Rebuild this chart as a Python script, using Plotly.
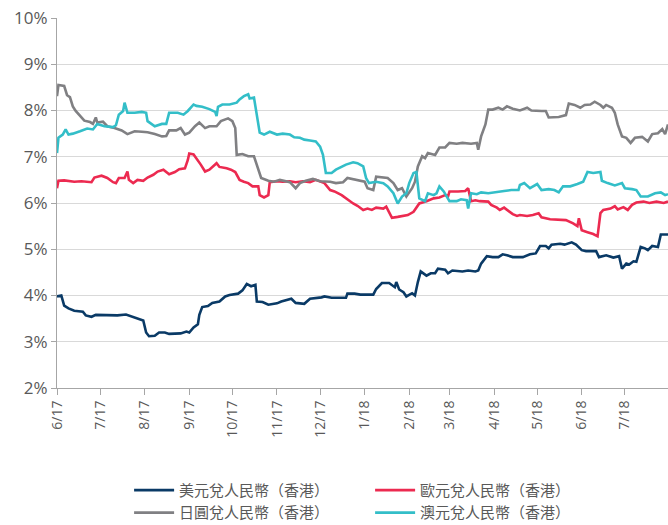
import pandas as pd
import plotly.graph_objects as go

START = "2017-06-01"

month_ticks = ["2017-06-01", "2017-07-01", "2017-08-01", "2017-09-01", "2017-10-01",
               "2017-11-01", "2017-12-01", "2018-01-01", "2018-02-01", "2018-03-01",
               "2018-04-01", "2018-05-01", "2018-06-01", "2018-07-01"]
month_labels = ["6/17", "7/17", "8/17", "9/17", "10/17", "11/17", "12/17",
                "1/18", "2/18", "3/18", "4/18", "5/18", "6/18", "7/18"]

y_ticks = [2, 3, 4, 5, 6, 7, 8, 9, 10]

# days since 2017-06-01 and values (%)
usd_days = [0, 3, 5, 8, 12, 18, 20, 24, 27, 33, 42, 48, 54, 57, 60, 62, 64, 68, 71, 75, 78, 86, 90, 92,
            95, 98, 99, 101, 105, 108, 113, 117, 120, 126, 129, 132, 135, 138, 139, 143, 147, 153,
            156, 163, 166, 172, 176, 184, 186, 191, 201, 202, 207, 211, 220, 222, 226, 231, 235,
            236, 238, 241, 243, 247, 249, 251, 253, 257, 260, 263, 265, 270, 272, 275, 282, 286,
            291, 293, 295, 299, 303, 307, 310, 313, 317, 324, 329, 333, 336, 340, 342, 344, 350,
            353, 358, 361, 365, 368, 375, 377, 382, 387, 391, 393, 396, 398, 401, 403, 406, 409,
            411, 414, 418, 420, 425]
usd_vals = [3.98, 4.00, 3.78, 3.72, 3.67, 3.65, 3.57, 3.54, 3.58, 3.57, 3.57, 3.59, 3.53, 3.49, 3.46,
            3.20, 3.12, 3.13, 3.20, 3.20, 3.17, 3.18, 3.22, 3.20, 3.31, 3.38, 3.58, 3.75, 3.77, 3.84,
            3.87, 3.98, 4.01, 4.04, 4.11, 4.25, 4.20, 4.23, 3.87, 3.86, 3.80, 3.83, 3.87, 3.93, 3.84,
            3.82, 3.93, 3.96, 3.98, 3.95, 3.95, 4.04, 4.04, 4.02, 4.02, 4.14, 4.27, 4.27, 4.18, 4.29,
            4.13, 4.07, 3.98, 4.05, 4.00, 4.29, 4.52, 4.43, 4.48, 4.48, 4.58, 4.56, 4.48, 4.54, 4.52,
            4.54, 4.52, 4.54, 4.69, 4.85, 4.83, 4.83, 4.89, 4.87, 4.83, 4.83, 4.89, 4.91, 5.07, 5.07,
            5.02, 5.10, 5.12, 5.10, 5.15, 5.10, 4.98, 4.96, 4.96, 4.83, 4.87, 4.82, 4.85, 4.58, 4.69,
            4.67, 4.74, 4.73, 5.05, 5.02, 4.98, 5.07, 5.05, 5.32, 5.32]

eur_days = [0, 1, 5, 12, 17, 24, 26, 31, 35, 39, 41, 43, 47, 49, 50, 53, 56, 60, 63, 67, 70, 74, 78,
            82, 85, 89, 91, 92, 95, 98, 100, 103, 106, 111, 113, 118, 121, 124, 127, 130, 133, 136,
            140, 141, 144, 147, 148, 153, 157, 162, 166, 171, 176, 180, 186, 190, 193, 198, 202, 206,
            209, 213, 216, 219, 222, 227, 229, 231, 233, 237, 244, 248, 250, 252, 257, 262, 266, 270,
            272, 273, 279, 284, 286, 288, 291, 294, 300, 302, 306, 308, 311, 317, 320, 322, 327, 331,
            335, 337, 343, 349, 354, 359, 362, 363, 365, 369, 373, 376, 378, 380, 385, 388, 390, 394,
            397, 400, 403, 408, 412, 417, 422, 425]
eur_vals = [6.32, 6.48, 6.49, 6.46, 6.47, 6.45, 6.55, 6.59, 6.54, 6.45, 6.43, 6.54, 6.54, 6.68, 6.50,
            6.43, 6.50, 6.48, 6.55, 6.61, 6.68, 6.72, 6.62, 6.67, 6.73, 6.75, 6.93, 7.07, 7.05, 6.93,
            6.83, 6.68, 6.72, 6.86, 6.78, 6.75, 6.72, 6.67, 6.50, 6.46, 6.43, 6.36, 6.36, 6.17, 6.12,
            6.17, 6.45, 6.47, 6.46, 6.47, 6.45, 6.47, 6.45, 6.50, 6.43, 6.28, 6.25, 6.17, 6.07, 5.99,
            5.94, 5.85, 5.88, 5.85, 5.90, 5.88, 5.92, 5.81, 5.68, 5.70, 5.74, 5.81, 5.90, 5.99, 6.04,
            6.10, 6.12, 6.17, 6.14, 6.25, 6.25, 6.26, 6.32, 6.04, 6.06, 6.04, 6.03, 5.96, 5.90, 5.85,
            5.90, 5.76, 5.72, 5.74, 5.72, 5.74, 5.78, 5.69, 5.65, 5.64, 5.63, 5.56, 5.50, 5.67, 5.41,
            5.37, 5.33, 5.28, 5.78, 5.85, 5.88, 5.93, 5.86, 5.91, 5.85, 5.96, 6.01, 6.03, 6.00, 6.03,
            6.00, 6.03]

jpy_days = [0, 1, 5, 7, 9, 11, 13, 16, 19, 23, 25, 27, 28, 32, 35, 40, 45, 49, 54, 59, 63, 68, 73, 76,
            78, 83, 86, 89, 92, 96, 99, 103, 106, 111, 114, 119, 122, 124, 125, 129, 133, 137, 140,
            142, 147, 151, 155, 162, 166, 169, 173, 178, 183, 190, 194, 199, 202, 208, 213, 214, 216,
            220, 222, 227, 230, 234, 237, 240, 243, 247, 249, 251, 254, 256, 258, 263, 266, 270, 273,
            278, 282, 288, 292, 293, 295, 298, 300, 303, 307, 310, 313, 317, 322, 327, 330, 337, 340,
            342, 349, 354, 356, 360, 364, 367, 371, 374, 378, 380, 382, 386, 388, 390, 393, 396, 399,
            402, 407, 411, 414, 418, 421, 423, 425]
jpy_vals = [8.31, 8.55, 8.53, 8.33, 8.29, 8.09, 7.99, 7.88, 7.78, 7.75, 7.71, 7.85, 7.74, 7.76, 7.66,
            7.62, 7.57, 7.49, 7.55, 7.54, 7.53, 7.49, 7.44, 7.45, 7.57, 7.57, 7.62, 7.48, 7.52, 7.66,
            7.74, 7.62, 7.66, 7.66, 7.77, 7.83, 7.77, 7.62, 7.04, 7.06, 7.01, 7.01, 6.75, 6.54, 6.48,
            6.46, 6.50, 6.45, 6.32, 6.43, 6.48, 6.52, 6.47, 6.46, 6.43, 6.45, 6.54, 6.50, 6.48, 6.46,
            6.32, 6.28, 6.57, 6.55, 6.54, 6.43, 6.28, 6.32, 6.14, 6.32, 6.46, 6.79, 7.01, 6.97, 7.08,
            7.04, 7.20, 7.20, 7.30, 7.28, 7.30, 7.28, 7.30, 7.15, 7.44, 7.70, 8.02, 8.02, 8.06, 8.02,
            8.09, 8.04, 8.00, 8.06, 8.00, 7.99, 7.99, 7.85, 7.86, 7.90, 8.15, 8.12, 8.06, 8.12, 8.13,
            8.19, 8.12, 8.06, 8.12, 8.06, 7.95, 7.70, 7.44, 7.41, 7.30, 7.41, 7.43, 7.33, 7.49, 7.51,
            7.60, 7.49, 7.70]

aud_days = [0, 1, 4, 6, 8, 11, 16, 21, 25, 28, 33, 39, 41, 43, 46, 47, 49, 54, 59, 62, 63, 68, 73, 76,
            78, 84, 88, 91, 95, 97, 101, 106, 110, 111, 112, 115, 120, 125, 127, 130, 133, 134, 137,
            139, 141, 144, 148, 153, 157, 162, 165, 169, 172, 176, 180, 183, 185, 187, 191, 194, 198,
            201, 206, 209, 213, 215, 217, 222, 227, 230, 234, 237, 240, 243, 245, 248, 250, 251, 252,
            256, 258, 262, 264, 266, 269, 273, 278, 281, 285, 286, 288, 292, 295, 300, 306, 311, 316,
            321, 322, 325, 329, 334, 337, 342, 346, 349, 352, 357, 362, 366, 369, 373, 378, 379, 383,
            388, 393, 395, 400, 403, 406, 411, 416, 420, 423, 425]
aud_vals = [7.08, 7.41, 7.48, 7.59, 7.48, 7.50, 7.55, 7.61, 7.59, 7.71, 7.66, 7.64, 7.68, 7.91, 7.99,
            8.17, 7.95, 7.95, 7.97, 7.95, 7.77, 7.66, 7.71, 7.71, 7.95, 7.95, 7.91, 7.99, 8.13, 8.10,
            8.08, 8.03, 7.97, 7.88, 8.08, 8.13, 8.13, 8.17, 8.24, 8.31, 8.35, 8.26, 8.28, 7.91, 7.52,
            7.48, 7.54, 7.48, 7.50, 7.48, 7.42, 7.41, 7.37, 7.35, 7.33, 7.22, 7.04, 6.65, 6.65, 6.72,
            6.79, 6.83, 6.88, 6.86, 6.79, 6.54, 6.43, 6.46, 6.43, 6.36, 6.21, 5.99, 6.14, 6.21, 6.43,
            6.65, 6.67, 6.39, 6.10, 6.04, 6.21, 6.17, 6.21, 6.36, 6.25, 6.04, 6.04, 6.08, 6.06, 5.88,
            6.21, 6.19, 6.23, 6.21, 6.23, 6.26, 6.28, 6.28, 6.39, 6.43, 6.32, 6.41, 6.28, 6.30, 6.28,
            6.23, 6.36, 6.36, 6.41, 6.46, 6.67, 6.65, 6.67, 6.48, 6.43, 6.38, 6.43, 6.32, 6.30, 6.28,
            6.14, 6.14, 6.21, 6.23, 6.17, 6.19]

series_names = ["美元兌人民幣（香港）", "歐元兌人民幣（香港）", "日圓兌人民幣（香港）", "澳元兌人民幣（香港）"]
series_colors = ["#0a3a66", "#ec2a50", "#808083", "#33bec8"]


def to_dates(days):
    return pd.Timestamp(START) + pd.to_timedelta(days, unit="D")


fig = go.Figure()
for name, color, days, vals in zip(series_names, series_colors,
                                   [usd_days, eur_days, jpy_days, aud_days],
                                   [usd_vals, eur_vals, jpy_vals, aud_vals]):
    fig.add_trace(go.Scatter(x=to_dates(days), y=vals, mode="lines", name=name,
                             line=dict(color=color, width=2.6)))

font_family = "Open Sans, Noto Sans CJK TC, sans-serif"
fig.update_layout(
    width=668, height=525,
    margin=dict(l=57, r=0, t=18, b=137, autoexpand=False),
    paper_bgcolor="white", plot_bgcolor="white",
    font=dict(family=font_family, size=15, color="#595959"),
    showlegend=True,
    legend=dict(orientation="h", x=0.118, xanchor="left", y=-0.232, yanchor="top",
                entrywidth=186, entrywidthmode="pixels",
                font=dict(family=font_family, size=15, color="#595959"),
                traceorder="normal", itemwidth=40, tracegroupgap=0),
)
fig.update_xaxes(
    type="date", range=["2017-06-01", "2018-07-31"], automargin=False,
    tickvals=month_ticks, ticktext=month_labels, tickangle=-90,
    ticks="outside", ticklen=6, tickcolor="#a6a6a6",
    showline=True, linecolor="#a6a6a6", linewidth=1,
    showgrid=False, zeroline=False,
    tickfont=dict(size=14, color="#595959"),
)
fig.update_yaxes(
    range=[2, 10], tickvals=y_ticks, ticktext=[f"{v}%" for v in y_ticks], automargin=False,
    ticks="outside", ticklen=5, tickcolor="#a6a6a6",
    showline=True, linecolor="#a6a6a6", linewidth=1,
    showgrid=True, gridcolor="#d9d9d9", gridwidth=1, zeroline=False,
    tickfont=dict(size=17, color="#595959"),
)

fig.write_html("out.html", config={"displayModeBar": False},
               post_script="document.body.style.margin='0';document.body.style.overflow='hidden';")
